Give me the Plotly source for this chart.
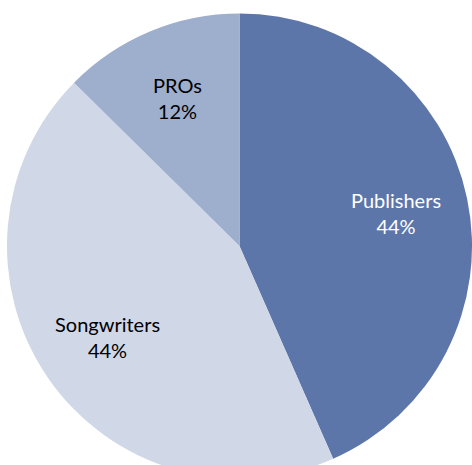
import math
import plotly.graph_objects as go

categories = ["Publishers", "Songwriters", "PROs"]
shares = [43.4, 44.0, 12.6]
pct_labels = ["44%", "44%", "12%"]
colors = ["#5d76a9", "#d0d7e7", "#9eaecd"]
text_colors = ["#ffffff", "#000000", "#000000"]

W, H = 472, 492
dom_x = [0.0148, 1.0]
dom_y = [0.0, 1.0]
label_r = 0.69

fig = go.Figure(go.Pie(
    labels=categories,
    values=shares,
    textinfo="none",
    sort=False,
    direction="clockwise",
    rotation=0,
    marker=dict(colors=colors, line=dict(width=0)),
    hoverinfo="label+percent",
    showlegend=False,
    domain=dict(x=dom_x, y=dom_y),
))

# label positions derived from the slice mid-angles (pie geometry from domain)
dw = (dom_x[1] - dom_x[0]) * W
dh = (dom_y[1] - dom_y[0]) * H
rad = min(dw, dh) / 2
cx = (dom_x[0] + dom_x[1]) / 2
cy = (dom_y[0] + dom_y[1]) / 2
total = sum(shares)
cum = 0.0
annotations = []
for name, v, pct, tc in zip(categories, shares, pct_labels, text_colors):
    mid = (cum + v / 2) / total * 2 * math.pi
    cum += v
    px = cx + label_r * rad * math.sin(mid) / W
    py = cy + label_r * rad * math.cos(mid) / H
    annotations.append(dict(
        x=px, y=py, xref="paper", yref="paper",
        text=f"{name}<br>{pct}", showarrow=False,
        xanchor="center", yanchor="middle", align="center",
        font=dict(family="Lato", size=20, color=tc),
    ))

fig.update_layout(
    width=W,
    height=H,
    margin=dict(l=0, r=0, t=0, b=0),
    paper_bgcolor="white",
    plot_bgcolor="white",
    annotations=annotations,
)

fig.write_html(
    "out.html",
    config={"displayModeBar": False},
    post_script="document.body.style.margin='0';document.body.style.overflow='hidden';",
)
